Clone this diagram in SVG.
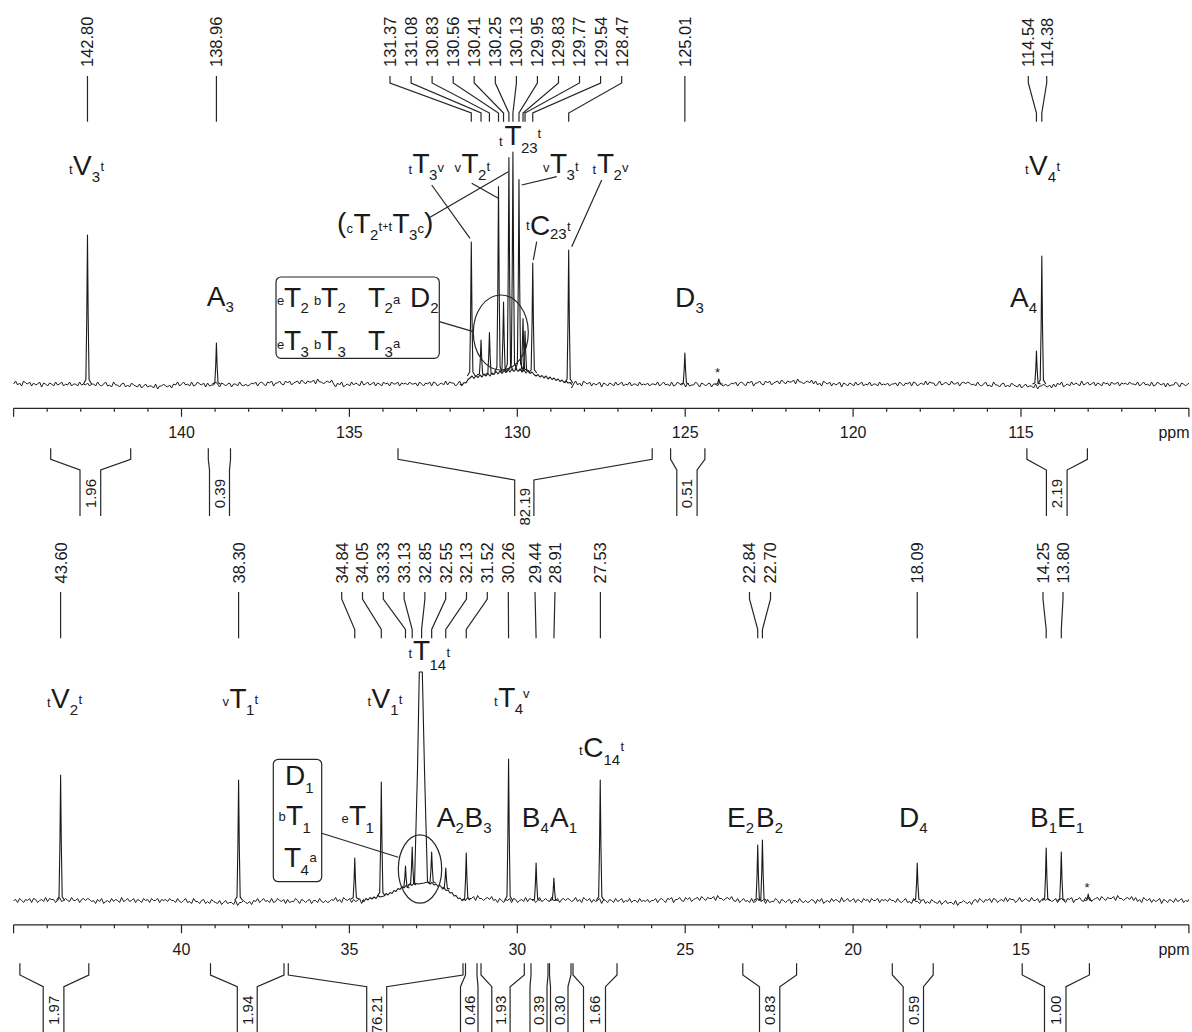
<svg xmlns="http://www.w3.org/2000/svg" xmlns:xlink="http://www.w3.org/1999/xlink" width="1192" height="1032" viewBox="0 0 1192 1032">
<style>
.ln{fill:none;stroke:#262626;stroke-width:1.2}
.sp{fill:none;stroke:#1a1a1a;stroke-width:1.1;stroke-linejoin:round}
.nz{fill:none;stroke:#1a1a1a;stroke-width:1}
.pk{fill:none;stroke:#1a1a1a;stroke-width:1.1;stroke-linejoin:round}
text{font-family:"Liberation Sans",Arial,Helvetica,sans-serif;fill:#1a1a1a}
.sh{font-size:16.5px}
.ax{font-size:16px;text-anchor:middle}
.ig{font-size:15px;text-anchor:end}
.m{font-size:28px}
.s{font-size:13px}
.d{font-size:15px}
.st{font-size:13px}
</style>
<defs>
<clipPath id="cp"><rect x="13" y="0" width="1176" height="1032"/></clipPath>
<path id="n1" vector-effect="non-scaling-stroke" d="M0,0 l2,-1.5 2,2 2,-1 2,1.5 2,-2.5 2,1 2,.5 2,-1 2,2 2,-1.5 2,1 2,-.5 2,-1 2,2.5 2,-2 2,.5 2,1 2,-1.5 2,.5 2,1 2,-2 2,1.5 2,-.5 2,-1 2,2 2,-1 2,.5 2,-1.5 2,2 2,-1 2,0 2,1 2,-2 2,1.5 2,-.5 2,.5 2,-1 2,1.5 2,-1 2,0"/>
<path id="n2" vector-effect="non-scaling-stroke" d="M0,0 l2,1 2,-2 2,1.5 2,.5 2,-1 2,-1 2,2 2,-.5 2,1 2,-2.5 2,1.5 2,0 2,1 2,-1.5 2,-.5 2,2 2,-1 2,1 2,-2 2,1 2,.5 2,.5 2,-1.5 2,2 2,-1 2,-1 2,1.5 2,-.5 2,0 2,1 2,-2 2,2.5 2,-1.5 2,0 2,-1 2,1 2,.5 2,-1 2,1.5 2,-2"/>
<path id="n3" vector-effect="non-scaling-stroke" d="M0,0 l2,-.5 2,1.5 2,-2 2,1 2,1 2,-1.5 2,.5 2,-1 2,2 2,-2 2,.5 2,1.5 2,-1 2,-.5 2,1 2,-2 2,2 2,-1.5 2,.5 2,0 2,1.5 2,-1 2,-1.5 2,2 2,-.5 2,-1 2,1 2,.5 2,-2 2,1.5 2,0 2,-1 2,2 2,-1.5 2,-.5 2,1 2,-1 2,.5 2,1 2,-.5"/>
<path id="pk" d="M-4,0 L-1.6,-.03 L-.7,-.45 L0,-1 L.7,-.45 L1.6,-.03 L4,0" vector-effect="non-scaling-stroke"/>
<path id="tk" class="ln" d="M13.6,0 H1188.9 M13.6,0v8.4 M47.18,0v3.4 M80.76,0v3.4 M114.34,0v3.4 M147.92,0v3.4 M181.5,0v8.4 M215.08,0v3.4 M248.66,0v3.4 M282.24,0v3.4 M315.82,0v3.4 M349.4,0v8.4 M382.98,0v3.4 M416.56,0v3.4 M450.14,0v3.4 M483.72,0v3.4 M517.3,0v8.4 M550.88,0v3.4 M584.46,0v3.4 M618.04,0v3.4 M651.62,0v3.4 M685.2,0v8.4 M718.78,0v3.4 M752.36,0v3.4 M785.94,0v3.4 M819.52,0v3.4 M853.1,0v8.4 M886.68,0v3.4 M920.26,0v3.4 M953.84,0v3.4 M987.42,0v3.4 M1021,0v8.4 M1054.58,0v3.4 M1088.16,0v3.4 M1121.74,0v3.4 M1155.32,0v3.4 M1188.9,0v8.4"/>
</defs>
<rect width="1192" height="1032" fill="#fff"/>

<!-- ===== TOP PANEL ===== -->
<g id="spectrum-top">
<g clip-path="url(#cp)" class="nz">
<use href="#n1" transform="translate(13.6,384) scale(1,2)"/>
<use href="#n2" transform="translate(93.6,384) scale(1,2)"/>
<use href="#n3" transform="translate(173.6,384) scale(1,-2)"/>
<use href="#n2" transform="translate(253.6,384) scale(1,-2)"/>
<use href="#n1" transform="translate(333.6,384) scale(1,-2)"/>
<use href="#n3" transform="translate(413.6,384) scale(1,2)"/>
<use href="#n2" transform="translate(493.6,384) scale(1,2)"/>
<use href="#n1" transform="translate(573.6,384) scale(1,2)"/>
<use href="#n3" transform="translate(653.6,384) scale(1,-2)"/>
<use href="#n2" transform="translate(733.6,384) scale(1,-2)"/>
<use href="#n1" transform="translate(813.6,384) scale(1,2)"/>
<use href="#n3" transform="translate(893.6,384) scale(1,2)"/>
<use href="#n2" transform="translate(973.6,384) scale(1,2)"/>
<use href="#n1" transform="translate(1053.6,384) scale(1,-2)"/>
<use href="#n3" transform="translate(1133.6,384) scale(1,-2)"/>
</g>
<rect x="462" y="364" width="109" height="28" fill="#fff"/>
<path class="sp" d="M460,384 L462,385.5 L464,382.5 L466,383 L468,379.5 L470,378 L472,376 L474,378.5 L476,375.5 L478,377.5 L480,375 L482,377 L484,374 L486,376 L488,373.5 L490,376 L492,373 L494,374.5 L496,371.5 L498,374 L500,371 L502,373.5 L504,370.5 L506,372.5 L508,369.5 L510,372 L512,369 L514,371.5 L516,369 L518,371.5 L520,369 L522,372 L524,370 L526,373 L528,370.5 L530,373.5 L532,372 L534,374.5 L536,376 L538,374.5 L540,377 L542,375.5 L544,378 L546,376 L548,379 L550,377 L552,379.5 L554,378 L556,380.5 L558,379 L560,381.5 L562,380 L564,382.5 L566,381 L568,383 L570,382.5 L572,384.5"/>
<g class="pk">
<use href="#pk" transform="translate(87.48,384) scale(1,149)"/>
<use href="#pk" transform="translate(216.42,384) scale(1,41)"/>
<use href="#pk" transform="translate(471.3,376) scale(1,134)"/>
<use href="#pk" transform="translate(481.03,375) scale(1,35)"/>
<use href="#pk" transform="translate(489.43,374.5) scale(1,42)"/>
<use href="#pk" transform="translate(498.5,372.5) scale(1,186)"/>
<use href="#pk" transform="translate(503.53,372) scale(1,70)"/>
<use href="#pk" transform="translate(508.91,370.5) scale(1,213)"/>
<use href="#pk" transform="translate(512.93,370) scale(1,218)"/>
<use href="#pk" transform="translate(518.98,369.5) scale(1,190)"/>
<use href="#pk" transform="translate(523.01,370.5) scale(1,52)"/>
<use href="#pk" transform="translate(525.02,371) scale(1,40)"/>
<use href="#pk" transform="translate(532.75,373) scale(1,110)"/>
<use href="#pk" transform="translate(568.68,383) scale(1,133)"/>
<use href="#pk" transform="translate(684.86,384) scale(1,31)"/>
<use href="#pk" transform="translate(718.8,384) scale(1,5)"/>
<use href="#pk" transform="translate(1036.45,384) scale(1,33)"/>
<use href="#pk" transform="translate(1041.82,384) scale(1,128)"/>
</g>
<text class="st" x="715" y="377">*</text>
</g>

<g id="axis-top">
<use href="#tk" transform="translate(0,408.3)"/>
<text class="ax" x="181.5" y="438.3">140</text>
<text class="ax" x="349.4" y="438.3">135</text>
<text class="ax" x="517.3" y="438.3">130</text>
<text class="ax" x="685.2" y="438.3">125</text>
<text class="ax" x="853.1" y="438.3">120</text>
<text class="ax" x="1021" y="438.3">115</text>
<text class="ax" x="1174" y="438.3">ppm</text>
</g>

<g id="integrals-top">
<path class="ln" d="M50.7,448.3V459.3L80,470V516M100.7,516V470L130.7,459.3V448.3"/>
<text class="ig" transform="translate(95.75,479) rotate(-90)">1.96</text>
<path class="ln" d="M208.3,448.3V459.3L209.5,470V516M229.5,516V470L230.5,459.3V448.3"/>
<text class="ig" transform="translate(224.9,479) rotate(-90)">0.39</text>
<path class="ln" d="M398,448.3V459.3L514.7,480V516M533.9,516V480L652.2,459.3V448.3"/>
<text class="ig" transform="translate(529.7,488) rotate(-90)">82.19</text>
<path class="ln" d="M670.6,448.3V459.3L676.8,470V516M697.1,516V470L704.9,459.3V448.3"/>
<text class="ig" transform="translate(692.4,479) rotate(-90)">0.51</text>
<path class="ln" d="M1026.9,448.3V459.3L1046.4,470V516M1067.1,516V470L1087.4,459.3V448.3"/>
<text class="ig" transform="translate(1062.15,479) rotate(-90)">2.19</text>
</g>

<g id="shifts-top">
<g class="sh">
<text transform="translate(93.4,67) rotate(-90)">142.80</text>
<text transform="translate(222.3,67) rotate(-90)">138.96</text>
<text transform="translate(395.9,67) rotate(-90)">131.37</text>
<text transform="translate(417,67) rotate(-90)">131.08</text>
<text transform="translate(438,67) rotate(-90)">130.83</text>
<text transform="translate(459.1,67) rotate(-90)">130.56</text>
<text transform="translate(480.1,67) rotate(-90)">130.41</text>
<text transform="translate(501.2,67) rotate(-90)">130.25</text>
<text transform="translate(522.3,67) rotate(-90)">130.13</text>
<text transform="translate(543.3,67) rotate(-90)">129.95</text>
<text transform="translate(564.4,67) rotate(-90)">129.83</text>
<text transform="translate(585.4,67) rotate(-90)">129.77</text>
<text transform="translate(606.5,67) rotate(-90)">129.54</text>
<text transform="translate(627.6,67) rotate(-90)">128.47</text>
<text transform="translate(690.8,67) rotate(-90)">125.01</text>
<text transform="translate(1034.2,67) rotate(-90)">114.54</text>
<text transform="translate(1052.6,67) rotate(-90)">114.38</text>
</g>
</g>

<g id="labels-top">
<text id="tV3t"><tspan class="s" x="69" y="174">t</tspan><tspan class="m" x="73" y="175">V</tspan><tspan class="d" x="91.7" y="182">3</tspan><tspan class="s" x="100.5" y="171">t</tspan></text>
<text id="A3"><tspan class="m" x="206.7" y="306">A</tspan><tspan class="d" x="225.5" y="312">3</tspan></text>
<g id="box-top">
<rect class="ln" x="276" y="277" width="163.3" height="81.3" rx="5"/>
<text><tspan class="s" x="277" y="305">e</tspan><tspan class="m" x="284" y="306.7">T</tspan><tspan class="d" x="300.5" y="313">2</tspan></text>
<text><tspan class="s" x="314" y="305">b</tspan><tspan class="m" x="321" y="306.7">T</tspan><tspan class="d" x="337.5" y="313">2</tspan></text>
<text><tspan class="m" x="368" y="306.7">T</tspan><tspan class="d" x="384.5" y="313">2</tspan><tspan class="s" x="393" y="304">a</tspan></text>
<text><tspan class="m" x="410" y="306.7">D</tspan><tspan class="d" x="430.2" y="313">2</tspan></text>
<text><tspan class="s" x="277" y="348.5">e</tspan><tspan class="m" x="284" y="350">T</tspan><tspan class="d" x="300.5" y="356.5">3</tspan></text>
<text><tspan class="s" x="314" y="348.5">b</tspan><tspan class="m" x="321" y="350">T</tspan><tspan class="d" x="337.5" y="356.5">3</tspan></text>
<text><tspan class="m" x="368" y="350">T</tspan><tspan class="d" x="384.5" y="356.5">3</tspan><tspan class="s" x="393" y="347.5">a</tspan></text>
</g>
<ellipse class="ln" cx="500.8" cy="332.5" rx="27.5" ry="37.5"/>
<text id="tT3v"><tspan class="s" x="408.5" y="174">t</tspan><tspan class="m" x="412.5" y="173">T</tspan><tspan class="d" x="429" y="180">3</tspan><tspan class="s" x="437.5" y="172">v</tspan></text>
<text id="vT2t"><tspan class="s" x="454.5" y="172">v</tspan><tspan class="m" x="461.5" y="173">T</tspan><tspan class="d" x="478" y="180">2</tspan><tspan class="s" x="486.5" y="171">t</tspan></text>
<text id="tT23t"><tspan class="s" x="499" y="146">t</tspan><tspan class="m" x="504.5" y="145">T</tspan><tspan class="d" x="521" y="152.5">23</tspan><tspan class="s" x="537.5" y="138">t</tspan></text>
<text id="vT3t"><tspan class="s" x="543" y="172">v</tspan><tspan class="m" x="550" y="173">T</tspan><tspan class="d" x="566.5" y="180">3</tspan><tspan class="s" x="575" y="171">t</tspan></text>
<text id="tT2v"><tspan class="s" x="592.5" y="174">t</tspan><tspan class="m" x="597" y="173">T</tspan><tspan class="d" x="613.5" y="180">2</tspan><tspan class="s" x="622" y="172">v</tspan></text>
<text id="cT2t-tT3c"><tspan class="m" x="337" y="232">(</tspan><tspan class="s" x="346.5" y="233">c</tspan><tspan class="m" x="353.5" y="233.3">T</tspan><tspan class="d" x="370" y="240">2</tspan><tspan class="s" x="378.5" y="231">t</tspan><tspan style="font-size:10px" x="382.5" y="230">+</tspan><tspan class="s" x="388.5" y="231">t</tspan><tspan class="m" x="392.5" y="233.3">T</tspan><tspan class="d" x="409" y="240">3</tspan><tspan class="s" x="417.5" y="233">c</tspan><tspan class="m" x="424" y="232">)</tspan></text>
<text id="tC23t"><tspan class="s" x="526" y="230">t</tspan><tspan class="m" x="530" y="235">C</tspan><tspan class="d" x="550" y="239">23</tspan><tspan class="s" x="567" y="231">t</tspan></text>
<text id="D3"><tspan class="m" x="675" y="306.7">D</tspan><tspan class="d" x="695.5" y="313">3</tspan></text>
<text id="A4"><tspan class="m" x="1010" y="306.7">A</tspan><tspan class="d" x="1028.8" y="313">4</tspan></text>
<text id="tV4t"><tspan class="s" x="1025" y="174">t</tspan><tspan class="m" x="1029" y="175">V</tspan><tspan class="d" x="1047.8" y="182">4</tspan><tspan class="s" x="1056.5" y="171">t</tspan></text>
</g>

<!-- ===== BOTTOM PANEL ===== -->
<g id="spectrum-bottom">
<g clip-path="url(#cp)" class="nz">
<use href="#n3" transform="translate(13.6,900.5) scale(1,2)"/>
<use href="#n1" transform="translate(93.6,900.5) scale(1,-2)"/>
<use href="#n2" transform="translate(173.6,900.5) scale(1,2)"/>
<use href="#n3" transform="translate(253.6,900.5) scale(1,-2)"/>
<use href="#n1" transform="translate(333.6,900.5) scale(1,2)"/>
<use href="#n2" transform="translate(413.6,900.5) scale(1,-2)"/>
<use href="#n3" transform="translate(493.6,900.5) scale(1,2)"/>
<use href="#n1" transform="translate(573.6,900.5) scale(1,2)"/>
<use href="#n2" transform="translate(653.6,900.5) scale(1,-2)"/>
<use href="#n3" transform="translate(733.6,900.5) scale(1,-2)"/>
<use href="#n1" transform="translate(813.6,900.5) scale(1,-2)"/>
<use href="#n2" transform="translate(893.6,900.5) scale(1,2)"/>
<use href="#n3" transform="translate(973.6,900.5) scale(1,2)"/>
<use href="#n2" transform="translate(1053.6,900.5) scale(1,-2)"/>
<use href="#n1" transform="translate(1133.6,900.5) scale(1,2)"/>
</g>
<rect x="364" y="874" width="101" height="34" fill="#fff"/>
<path class="sp" d="M362,900.5 L364,901.5 L366,898.5 L368,900 L370,897.5 L372,899 L374,897 L376,898.5 L378,895.5 L380,897 L384,896 L386,893.5 L388,895 L390,892.5 L392,893.5 L394,890.5 L396,891.5 L398,888.5 L400,889.5 L402,886.5 L404,888 L406,885.5 L408,886.5 L410,884 L412,885.5 L414,883 L418,884 L424,883 L428,882 L430,884 L432,882.5 L434,885 L436,884 L438,886.5 L440,885.5 L442,888 L444,887.5 L446,890.5 L448,890 L450,893 L452,892.5 L454,896 L456,895.5 L458,898.5 L460,898 L462,900.5 L464,899.5 L466,900.5"/>
<path class="sp" d="M414.5,884 L417.5,770 L419.3,672 L422.3,672 L424.5,770 L427.5,882"/>
<g class="pk">
<use href="#pk" transform="translate(60.61,900.5) scale(1,125.5)"/>
<use href="#pk" transform="translate(238.59,900.5) scale(1,120.5)"/>
<use href="#pk" transform="translate(354.77,899) scale(1,41)"/>
<use href="#pk" transform="translate(381.3,896) scale(1,114)"/>
<use href="#pk" transform="translate(405.48,888) scale(1,22)"/>
<use href="#pk" transform="translate(412.19,885) scale(1,38)"/>
<use href="#pk" transform="translate(431.67,883) scale(1,31)"/>
<use href="#pk" transform="translate(445.77,889) scale(1,21)"/>
<use href="#pk" transform="translate(466.26,900) scale(1,47)"/>
<use href="#pk" transform="translate(508.57,900.5) scale(1,141.5)"/>
<use href="#pk" transform="translate(536.1,900.5) scale(1,37.5)"/>
<use href="#pk" transform="translate(553.9,900.5) scale(1,22.5)"/>
<use href="#pk" transform="translate(600.24,900.5) scale(1,120.5)"/>
<use href="#pk" transform="translate(757.73,900.5) scale(1,55.5)"/>
<use href="#pk" transform="translate(762.43,900.5) scale(1,60.5)"/>
<use href="#pk" transform="translate(917.24,900.5) scale(1,37.5)"/>
<use href="#pk" transform="translate(1046.19,900.5) scale(1,52.5)"/>
<use href="#pk" transform="translate(1061.3,900.5) scale(1,48.5)"/>
<use href="#pk" transform="translate(1088.2,900.5) scale(1,6.5)"/>
</g>
<text class="st" x="1084.5" y="892">*</text>
</g>

<g id="axis-bottom">
<use href="#tk" transform="translate(0,924.8)"/>
<text class="ax" x="181.5" y="954.8">40</text>
<text class="ax" x="349.4" y="954.8">35</text>
<text class="ax" x="517.3" y="954.8">30</text>
<text class="ax" x="685.2" y="954.8">25</text>
<text class="ax" x="853.1" y="954.8">20</text>
<text class="ax" x="1021" y="954.8">15</text>
<text class="ax" x="1174" y="954.8">ppm</text>
</g>

<g id="integrals-bottom">
<path class="ln" d="M19.9,963.3V975L43.2,986.7V1040M63.9,1040V986.7L88.8,975V963.3"/>
<text class="ig" transform="translate(58.95,995.7) rotate(-90)">1.97</text>
<path class="ln" d="M210.5,963.3V975L237.3,986.7V1040M257.2,1040V986.7L284,975V963.3"/>
<text class="ig" transform="translate(252.65,995.7) rotate(-90)">1.94</text>
<path class="ln" d="M288.3,963.3V975L366.7,986.7V1040M386.7,1040V986.7L463,975V963.3"/>
<text class="ig" transform="translate(382.1,995.7) rotate(-90)">76.21</text>
<path class="ln" d="M465.5,963.3V975L460.5,986.7V1040M478,1040V986.7L477,975V963.3"/>
<text class="ig" transform="translate(474.65,995.7) rotate(-90)">0.46</text>
<path class="ln" d="M481,963.3V975L491.8,986.7V1040M510.1,1040V986.7L524.3,975V963.3"/>
<text class="ig" transform="translate(506.35,995.7) rotate(-90)">1.93</text>
<path class="ln" d="M531,963.3V975L530,986.7V1040M547,1040V986.7L548,975V963.3"/>
<text class="ig" transform="translate(543.9,995.7) rotate(-90)">0.39</text>
<path class="ln" d="M549.5,963.3V975L550.5,986.7V1040M568,1040V986.7L571,975V963.3"/>
<text class="ig" transform="translate(564.65,995.7) rotate(-90)">0.30</text>
<path class="ln" d="M573,963.3V975L583.5,986.7V1040M605.5,1040V986.7L617,975V963.3"/>
<text class="ig" transform="translate(599.9,995.7) rotate(-90)">1.66</text>
<path class="ln" d="M742.8,963.3V975L759.5,986.7V1040M779.8,1040V986.7L796.6,975V963.3"/>
<text class="ig" transform="translate(775.05,995.7) rotate(-90)">0.83</text>
<path class="ln" d="M892.3,963.3V975L903.2,986.7V1040M923.5,1040V986.7L933.2,975V963.3"/>
<text class="ig" transform="translate(918.75,995.7) rotate(-90)">0.59</text>
<path class="ln" d="M1022.2,963.3V975L1044.5,986.7V1040M1066,1040V986.7L1089.4,975V963.3"/>
<text class="ig" transform="translate(1060.65,995.7) rotate(-90)">1.00</text>
</g>

<g id="shifts-bottom">
<g class="sh">
<text transform="translate(66.5,583.5) rotate(-90)">43.60</text>
<text transform="translate(244.5,583.5) rotate(-90)">38.30</text>
<text transform="translate(347.6,583.5) rotate(-90)">34.84</text>
<text transform="translate(368.4,583.5) rotate(-90)">34.05</text>
<text transform="translate(389.2,583.5) rotate(-90)">33.33</text>
<text transform="translate(410,583.5) rotate(-90)">33.13</text>
<text transform="translate(430.8,583.5) rotate(-90)">32.85</text>
<text transform="translate(451.6,583.5) rotate(-90)">32.55</text>
<text transform="translate(472.4,583.5) rotate(-90)">32.13</text>
<text transform="translate(493.2,583.5) rotate(-90)">31.52</text>
<text transform="translate(514.2,583.5) rotate(-90)">30.26</text>
<text transform="translate(540.9,583.5) rotate(-90)">29.44</text>
<text transform="translate(560.9,583.5) rotate(-90)">28.91</text>
<text transform="translate(606.3,583.5) rotate(-90)">27.53</text>
<text transform="translate(755.4,583.5) rotate(-90)">22.84</text>
<text transform="translate(776.4,583.5) rotate(-90)">22.70</text>
<text transform="translate(923.1,583.5) rotate(-90)">18.09</text>
<text transform="translate(1048.9,583.5) rotate(-90)">14.25</text>
<text transform="translate(1068.9,583.5) rotate(-90)">13.80</text>
</g>
</g>

<g id="labels-bottom">
<text id="tV2t"><tspan class="s" x="47" y="707">t</tspan><tspan class="m" x="51" y="708.3">V</tspan><tspan class="d" x="69.7" y="715">2</tspan><tspan class="s" x="78.5" y="704">t</tspan></text>
<text id="vT1t"><tspan class="s" x="222.5" y="706">v</tspan><tspan class="m" x="229.5" y="708.3">T</tspan><tspan class="d" x="246" y="715">1</tspan><tspan class="s" x="254.5" y="704">t</tspan></text>
<text id="tV1t"><tspan class="s" x="367.5" y="706">t</tspan><tspan class="m" x="371.5" y="708.3">V</tspan><tspan class="d" x="390.2" y="715">1</tspan><tspan class="s" x="398.7" y="704">t</tspan></text>
<text id="tT14t"><tspan class="s" x="408.5" y="658">t</tspan><tspan class="m" x="413" y="660">T</tspan><tspan class="d" x="429.5" y="670">14</tspan><tspan class="s" x="446.5" y="657">t</tspan></text>
<g id="box-bottom">
<rect class="ln" x="273.3" y="759.3" width="48.4" height="122.4" rx="5"/>
<text><tspan class="m" x="285" y="785">D</tspan><tspan class="d" x="305.2" y="793">1</tspan></text>
<text><tspan class="s" x="278.5" y="821">b</tspan><tspan class="m" x="286" y="825">T</tspan><tspan class="d" x="302.5" y="833">1</tspan></text>
<text><tspan class="m" x="284" y="866.7">T</tspan><tspan class="d" x="300.5" y="875">4</tspan><tspan class="s" x="309.5" y="862">a</tspan></text>
</g>
<ellipse class="ln" cx="420" cy="869" rx="21.7" ry="34.2"/>
<text id="eT1"><tspan class="s" x="341.5" y="823">e</tspan><tspan class="m" x="349" y="825">T</tspan><tspan class="d" x="365.5" y="833">1</tspan></text>
<text id="tT4v"><tspan class="s" x="494" y="706">t</tspan><tspan class="m" x="498.3" y="706.7">T</tspan><tspan class="d" x="514.8" y="714">4</tspan><tspan class="s" x="523" y="698">v</tspan></text>
<text id="tC14t"><tspan class="s" x="579" y="755">t</tspan><tspan class="m" x="583.3" y="756.7">C</tspan><tspan class="d" x="603.5" y="765">14</tspan><tspan class="s" x="620.5" y="751">t</tspan></text>
<text id="A2B3"><tspan class="m" x="436.7" y="826.7">A</tspan><tspan class="d" x="455.4" y="833">2</tspan><tspan class="m" x="464.5" y="826.7">B</tspan><tspan class="d" x="483.2" y="833">3</tspan></text>
<text id="B4A1"><tspan class="m" x="521.7" y="826.7">B</tspan><tspan class="d" x="540.4" y="833">4</tspan><tspan class="m" x="550" y="826.7">A</tspan><tspan class="d" x="568.7" y="833">1</tspan></text>
<text id="E2B2"><tspan class="m" x="727" y="826.7">E</tspan><tspan class="d" x="745.7" y="833">2</tspan><tspan class="m" x="756" y="826.7">B</tspan><tspan class="d" x="774.7" y="833">2</tspan></text>
<text id="D4"><tspan class="m" x="899" y="826.7">D</tspan><tspan class="d" x="919.2" y="833">4</tspan></text>
<text id="B1E1"><tspan class="m" x="1030" y="826.7">B</tspan><tspan class="d" x="1048.7" y="833">1</tspan><tspan class="m" x="1057" y="826.7">E</tspan><tspan class="d" x="1075.7" y="833">1</tspan></text>
</g>

<g id="connectors" class="ln">
<path d="M87.48,76V121.7 M216.42,76V121.7 M684.86,76V121.7"/>
<path d="M390,76V83L471.3,113V121.7 M411.1,76V83L481.03,113V121.7 M432.1,76V83L489.43,113V121.7 M453.2,76V83L498.5,113V121.7 M474.2,76V83L503.53,113V121.7 M495.3,76V83L508.91,113V121.7 M516.4,76V83L512.93,113V121.7 M537.4,76V83L518.98,113V121.7 M558.5,76V83L523.01,113V121.7 M579.5,76V83L525.02,113V121.7 M600.6,76V83L532.75,113V121.7 M621.7,76V83L568.68,113V121.7"/>
<path d="M1028.3,76V83L1036.45,113V121.7 M1046.7,76V83L1041.82,113V121.7"/>
<path d="M431.7,185L470,238.3 M471.7,183.3L498.3,198.3 M428.3,218.3L508.3,171.7 M556.7,176.7L521.7,185 M536.7,241.7L533.3,260 M601.7,180L571.7,246.7 M439.3,321.7L473.3,331.7"/>
<path d="M60.61,592V638.2 M238.59,592V638.2 M600.4,592V638.2 M917.24,592V638.2 M508.3,592L508.57,638.2 M535,592L536.1,638.2 M555,592L553.9,638.2"/>
<path d="M341.7,592V599L354.77,629.5V638.2 M362.5,592V599L381.3,629.5V638.2 M383.3,592V599L405.48,629.5V638.2 M404.1,592V599L412.19,629.5V638.2 M424.9,592V599L421.6,629.5V638.2 M445.7,592V599L431.67,629.5V638.2 M466.5,592V599L445.77,629.5V638.2 M487.3,592V599L466.26,629.5V638.2"/>
<path d="M749.5,592V599L757.73,629.5V638.2 M770.5,592V599L762.43,629.5V638.2 M1043,592V599L1046.19,629.5V638.2 M1063,592V599L1061.3,629.5V638.2"/>
<path d="M321.7,833.3L398.3,857.3"/>
</g>
</svg>
